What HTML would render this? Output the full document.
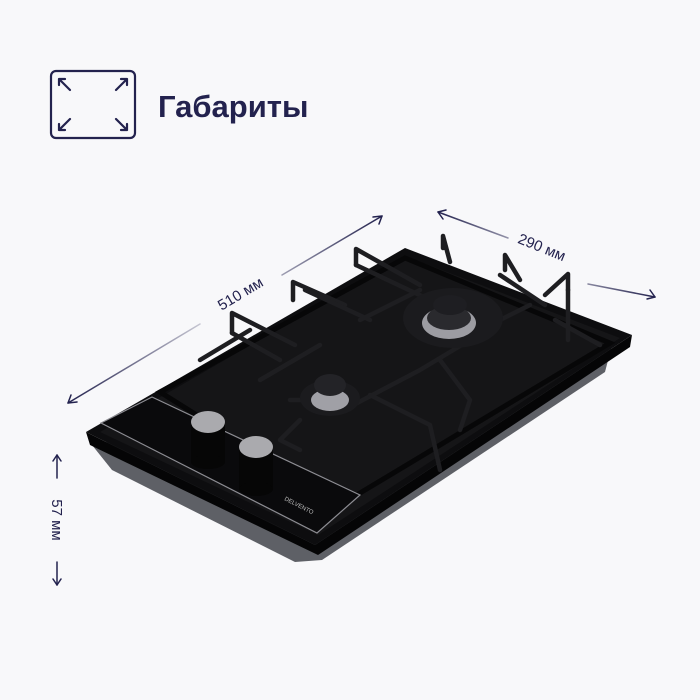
<!DOCTYPE html>
<html><head><meta charset="utf-8"><style>
html,body{margin:0;padding:0;background:#f8f8fa;}
svg{display:block}
</style></head><body>
<svg width="700" height="700" viewBox="0 0 700 700" xmlns="http://www.w3.org/2000/svg">
<rect width="700" height="700" fill="#f8f8fa"/>
<g fill="none" stroke="#23224e" stroke-width="2.2" stroke-linecap="round" stroke-linejoin="round">
<rect x="51" y="71" width="84" height="67" rx="5"/>
<path d="M59 79 L70 90 M59 79 h6 M59 79 v6"/>
<path d="M127 79 L116 90 M127 79 h-6 M127 79 v6"/>
<path d="M59 130 L70 119 M59 130 h6 M59 130 v-6"/>
<path d="M127 130 L116 119 M127 130 h-6 M127 130 v-6"/>
</g>
<text x="158" y="117" font-family="Liberation Sans, sans-serif" font-size="31" font-weight="bold" fill="#23224e">Габариты</text>

<defs>
<linearGradient id="g1" x1="68" y1="403" x2="382" y2="216" gradientUnits="userSpaceOnUse">
<stop offset="0" stop-color="#23224e"/><stop offset="0.45" stop-color="#d0d0da"/><stop offset="0.55" stop-color="#d0d0da"/><stop offset="1" stop-color="#23224e"/></linearGradient>
<linearGradient id="g2" x1="438" y1="212" x2="655" y2="297" gradientUnits="userSpaceOnUse">
<stop offset="0" stop-color="#23224e"/><stop offset="0.5" stop-color="#d0d0da"/><stop offset="1" stop-color="#23224e"/></linearGradient>
</defs>
<g fill="none" stroke-width="1.5" stroke-linecap="round">
<path d="M68 403 L200 324 M282 275 L382 216" stroke="url(#g1)"/>
<path d="M68 403 l9 -1 M68 403 l3 -8" stroke="#23224e"/>
<path d="M382 216 l-9 1 M382 216 l-3 8" stroke="#23224e"/>
<path d="M438 212 L508 238 M588 284 L655 297" stroke="url(#g2)"/>
<path d="M438 212 l5 7 M438 212 l8 -2" stroke="#23224e"/>
<path d="M655 297 l-5 -7 M655 297 l-8 2" stroke="#23224e"/>
<path d="M57 455 V478 M57 562 V585" stroke="#23224e"/>
<path d="M57 455 l-4 6 M57 455 l4 6 M57 585 l-4 -6 M57 585 l4 -6" stroke="#23224e"/>
</g>
<g font-family="Liberation Sans, sans-serif" font-size="15" fill="#23224e">
<text transform="translate(243,298) rotate(-31)" text-anchor="middle">510 мм</text>
<text transform="translate(540,252) rotate(22)" text-anchor="middle">290 мм</text>
<text transform="translate(52,520) rotate(90)" text-anchor="middle">57 мм</text>
</g>

<!-- body (gray underside) -->
<polygon points="92,445 112,470 295,562 322,560 605,372 612,345" fill="#5e6066"/>
<!-- rim thickness -->
<polygon points="86,432 315,545 632,335 630,347 318,555 90,445" fill="#050506"/>
<!-- top -->
<polygon points="86,432 405,248 632,335 315,545" fill="#0d0d0f"/>
<polygon points="100,432 405,256 620,338 318,535" fill="#151517"/>
<!-- grate frame -->
<polygon points="160,392 405,258 610,343 340,505" fill="none" stroke="#070708" stroke-width="5"/>
<!-- panel -->
<polygon points="101,423 152,397 360,495 317,533" fill="#0a0a0c" stroke="#8d8d93" stroke-width="1.2"/>
<!-- grate bars -->
<g stroke="#1e1e21" stroke-width="4.5" fill="none" stroke-linecap="round" stroke-linejoin="round">
<path d="M232 333 v-20 L295 345 M293 300 v-18 L345 305 M356 265 v-16 L420 285 M443 248 v-12 L450 262 M505 270 v-15 L520 280 M568 290 v-16 L545 295"/>
<path d="M232 333 L280 360 M305 290 L370 320 M356 265 L430 300 M500 275 L545 305 M568 290 L568 340 M555 320 L600 345"/>
<path d="M200 360 L250 330 M260 380 L320 345 M340 412 L420 370 L470 340 M360 320 L420 290 M440 345 L485 320 M480 330 L530 305"/>
<path d="M300 420 L280 440 L300 450 M370 395 L430 425 L440 470 M440 360 L470 400 L460 430 M340 400 L290 400"/>
</g>
<!-- burners -->
<ellipse cx="453" cy="318" rx="50" ry="30" fill="#1b1b1e"/>
<ellipse cx="449" cy="323" rx="27" ry="16" fill="#9c9ca2"/>
<ellipse cx="449" cy="318" rx="22" ry="12" fill="#2a2a2e"/>
<ellipse cx="450" cy="305" rx="17" ry="10" fill="#1e1e22"/>
<ellipse cx="330" cy="398" rx="30" ry="18" fill="#1b1b1e"/>
<ellipse cx="330" cy="400" rx="19" ry="11" fill="#a0a0a6"/>
<ellipse cx="330" cy="385" rx="16" ry="11" fill="#232327"/>
<!-- knobs -->
<rect x="191" y="422" width="34" height="40" fill="#060606"/>
<ellipse cx="208" cy="462" rx="17" ry="7" fill="#060606"/>
<ellipse cx="208" cy="422" rx="17" ry="11" fill="#aaaaae"/>
<rect x="239" y="447" width="34" height="42" fill="#060606"/>
<ellipse cx="256" cy="489" rx="17" ry="7" fill="#060606"/>
<ellipse cx="256" cy="447" rx="17" ry="11" fill="#aaaaae"/>
<text transform="translate(284,500) rotate(27)" font-family="Liberation Sans, sans-serif" font-size="6" fill="#bbb">DELVENTO</text>
</svg>
</body></html>
